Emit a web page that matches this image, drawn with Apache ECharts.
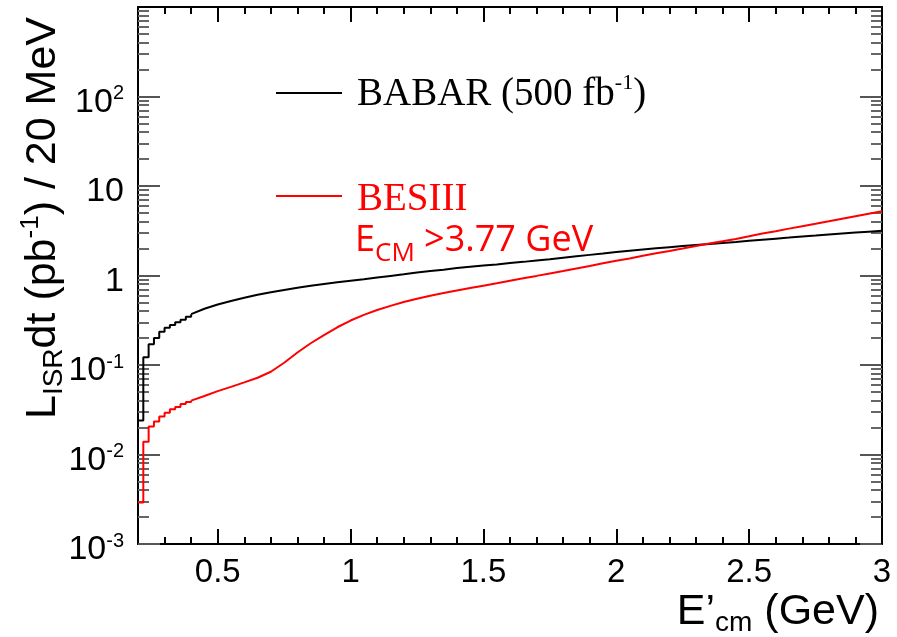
<!DOCTYPE html>
<html>
<head>
<meta charset="utf-8">
<script src="https://cdn.jsdelivr.net/npm/echarts@6/dist/echarts.min.js"></script>
<style>
  html, body { margin: 0; padding: 0; background: #fff; }
  #chart { width: 897px; height: 637px; }
</style>
</head>
<body>
<div id="chart"></div>
<script>
// bin left edges (GeV), fine near threshold, coarser further on
const energy = [
  0.20, 0.22, 0.24, 0.26, 0.28, 0.30, 0.32, 0.34, 0.36, 0.38, 0.40,
  0.45, 0.50, 0.55, 0.60, 0.65, 0.70, 0.75, 0.80, 0.85, 0.90, 0.95,
  1.00, 1.05, 1.10, 1.15, 1.20, 1.25, 1.30, 1.35, 1.40, 1.45,
  1.50, 1.55, 1.60, 1.65, 1.70, 1.75, 1.80, 1.85, 1.90, 1.95,
  2.00, 2.05, 2.10, 2.15, 2.20, 2.25, 2.30, 2.35, 2.40, 2.45,
  2.50, 2.55, 2.60, 2.65, 2.70, 2.75, 2.80, 2.85, 2.90, 2.95, 3.00
];
// BABAR (500 fb-1), pb-1 / 20 MeV
const babar = [
  0.024, 0.122, 0.17, 0.20, 0.235, 0.26, 0.28, 0.30, 0.32, 0.345, 0.37,
  0.425, 0.475, 0.52, 0.565, 0.61, 0.65, 0.69, 0.73, 0.77, 0.805, 0.84,
  0.875, 0.91, 0.95, 0.99, 1.03, 1.08, 1.12, 1.16, 1.21, 1.25,
  1.29, 1.33, 1.38, 1.42, 1.47, 1.52, 1.58, 1.64, 1.70, 1.76,
  1.83, 1.89, 1.95, 2.01, 2.07, 2.13, 2.19, 2.25, 2.31, 2.37,
  2.44, 2.51, 2.58, 2.65, 2.73, 2.80, 2.88, 2.95, 3.02, 3.09, 3.16
];
// BESIII, Ecm > 3.77 GeV
const besiii = [
  0.0029, 0.0139, 0.0205, 0.0233, 0.0265, 0.0293, 0.032, 0.034, 0.0366, 0.0386, 0.040,
  0.045, 0.051, 0.057, 0.064, 0.072, 0.084, 0.106, 0.138, 0.175, 0.216, 0.264,
  0.314, 0.363, 0.411, 0.458, 0.505, 0.55, 0.595, 0.636, 0.678, 0.723,
  0.77, 0.82, 0.875, 0.933, 0.99, 1.055, 1.12, 1.20, 1.28, 1.37,
  1.46, 1.55, 1.66, 1.77, 1.88, 2.00, 2.14, 2.28, 2.41, 2.56,
  2.74, 2.94, 3.13, 3.34, 3.56, 3.79, 4.04, 4.31, 4.59, 4.89, 5.21
];
// first bins (up to 0.40 GeV) are drawn as visible histogram steps
const stepUntil = 10;

const xTicks = [0.5, 1, 1.5, 2, 2.5, 3];
const xTickLabels = ["0.5", "1", "1.5", "2", "2.5", "3"];
const yTicks = [0.001, 0.01, 0.1, 1, 10, 100];
const yTickLabels = ["{b|10}{s|-3}", "{b|10}{s|-2}", "{b|10}{s|-1}", "{b|1}", "{b|10}", "{b|10}{s|2}"];

// 2..9 x 10^k minor ticks for the log axis
const yMinor = [];
for (let k = -3; k <= 2; k++) {
  for (let m = 2; m <= 9; m++) yMinor.push(+(m * Math.pow(10, k)).toPrecision(3));
}
const xMinor = [];
for (let i = 3; i <= 29; i++) if (i % 5 !== 0) xMinor.push(i / 10);

const FONT = "Liberation Sans";
const frame = { show: true, lineStyle: { color: "#000", width: 2 } };

function xAxisPair(pos) {
  return [
    {
      type: "value", position: pos, min: 0.2, max: 3.0,
      axisLine: frame,
      splitLine: { show: false },
      axisTick: { inside: true, length: 15, customValues: xTicks, lineStyle: { color: "#000", width: 2 } },
      axisLabel: pos === "bottom" ? {
        customValues: xTicks, margin: 12, color: "#000", fontFamily: FONT, fontSize: 33,
        formatter: (v) => xTickLabels[xTicks.indexOf(v)] ?? ""
      } : { show: false }
    },
    {
      type: "value", position: pos, min: 0.2, max: 3.0,
      axisLine: { show: false },
      splitLine: { show: false },
      axisTick: { inside: true, length: 7, customValues: xMinor, lineStyle: { color: "#000", width: 2 } },
      axisLabel: { show: false }
    }
  ];
}

function yAxisPair(pos) {
  return [
    {
      type: "log", logBase: 10, position: pos, min: 0.001, max: 1000,
      axisLine: frame,
      splitLine: { show: false },
      axisTick: { inside: true, length: 22, customValues: yTicks, lineStyle: { color: "#555", width: 2 } },
      axisLabel: pos === "left" ? {
        customValues: yTicks, margin: 14, color: "#000", fontFamily: FONT,
        padding: [10, 0, 0, 0],
        formatter: (v) => {
          const i = yTicks.findIndex((t) => Math.abs(t - v) / t < 1e-6);
          return i >= 0 ? yTickLabels[i] : "";
        },
        rich: {
          b: { fontSize: 34, fontFamily: FONT, color: "#000", lineHeight: 36, verticalAlign: "bottom" },
          s: { fontSize: 20, fontFamily: FONT, color: "#000", lineHeight: 36, verticalAlign: "top" }
        }
      } : { show: false }
    },
    {
      type: "log", logBase: 10, position: pos, min: 0.001, max: 1000,
      axisLine: { show: false },
      splitLine: { show: false },
      axisTick: { inside: true, length: 11, customValues: yMinor, lineStyle: { color: "#666", width: 2 } },
      axisLabel: { show: false }
    }
  ];
}

function curve(values, color) {
  const pts = energy.map((e, i) => [e, values[i]]);
  const base = {
    type: "line", symbol: "none", xAxisIndex: 0, yAxisIndex: 0,
    lineStyle: { color: color, width: 2 }
  };
  return [
    { ...base, step: "end", data: pts.slice(0, stepUntil + 1) },
    { ...base, data: pts.slice(stepUntil) }
  ];
}

const chart = echarts.init(document.getElementById("chart"));

chart.setOption({
  animation: false,
  backgroundColor: "#fff",
  grid: { left: 138, right: 15, top: 7, bottom: 93 },
  xAxis: [...xAxisPair("bottom"), ...xAxisPair("top")],
  yAxis: [...yAxisPair("left"), ...yAxisPair("right")],
  series: [...curve(babar, "#000"), ...curve(besiii, "#ff0000")],
  graphic: [
    // legend
    { type: "line", shape: { x1: 276, y1: 93, x2: 342, y2: 93 }, style: { stroke: "#000", lineWidth: 2 } },
    {
      type: "text", x: 357, y: 114,
      style: {
        text: "{t|BABAR (500 fb}{s|-1}{t|)}", verticalAlign: "bottom",
        rich: {
          t: { fontFamily: "Liberation Serif", fontSize: 39, fill: "#000", lineHeight: 42, verticalAlign: "bottom" },
          s: { fontFamily: "Liberation Serif", fontSize: 22, fill: "#000", lineHeight: 42, verticalAlign: "top" }
        }
      }
    },
    { type: "line", shape: { x1: 276, y1: 196, x2: 342, y2: 196 }, style: { stroke: "#ff0000", lineWidth: 2 } },
    {
      type: "text", x: 357, y: 219,
      style: { text: "BESIII", fontFamily: "Liberation Serif", fontSize: 39, fill: "#ff0000", verticalAlign: "bottom" }
    },
    {
      type: "text", x: 355, y: 267,
      style: {
        text: "{t|E}{s|CM}{t| >3.77 GeV}", verticalAlign: "bottom",
        rich: {
          t: { fontFamily: "Open Sans", fontSize: 36, fill: "#ff0000", lineHeight: 44, verticalAlign: "top" },
          s: { fontFamily: "Open Sans", fontSize: 26, fill: "#ff0000", lineHeight: 44, verticalAlign: "bottom" }
        }
      }
    },
    // axis titles
    {
      type: "text", x: 43, y: 218, rotation: Math.PI / 2,
      style: {
        text: "{m|L}{d|ISR}{m|dt (pb}{u|-1}{m|) / 20 MeV}", align: "center", verticalAlign: "middle",
        rich: {
          m: { fontFamily: FONT, fontSize: 43, fill: "#000", lineHeight: 50, verticalAlign: "middle" },
          d: { fontFamily: FONT, fontSize: 28, fill: "#000", lineHeight: 50, verticalAlign: "bottom" },
          u: { fontFamily: FONT, fontSize: 26, fill: "#000", lineHeight: 50, verticalAlign: "top" }
        }
      }
    },
    {
      type: "text", x: 879, y: 612,
      style: {
        text: "{m|E\u2019}{d|cm}{m| (GeV)}", align: "right", verticalAlign: "middle",
        rich: {
          m: { fontFamily: FONT, fontSize: 43, fill: "#000", lineHeight: 50, verticalAlign: "middle" },
          d: { fontFamily: FONT, fontSize: 28, fill: "#000", lineHeight: 50, verticalAlign: "bottom" }
        }
      }
    }
  ]
});

window.addEventListener("resize", () => chart.resize());
</script>
</body>
</html>
